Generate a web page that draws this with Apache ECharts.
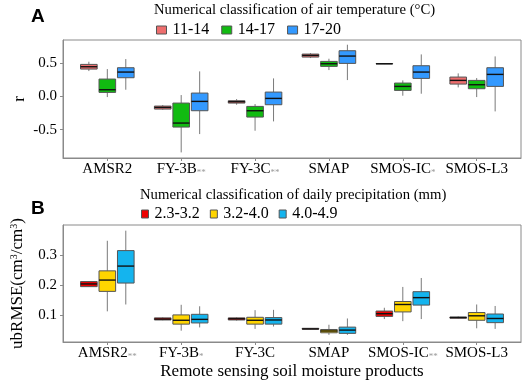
<!DOCTYPE html>
<html>
<head>
<meta charset="utf-8">
<script src="https://cdn.jsdelivr.net/npm/echarts@6/dist/echarts.min.js"></script>
<style>
  html, body { margin: 0; padding: 0; background: #fff; }
  #main { width: 526px; height: 388px; }
</style>
</head>
<body>
<div id="main"></div>
<script>
// products on the x axis (stars = significance marks)
var products = ['AMSR2', 'FY-3B', 'FY-3C', 'SMAP', 'SMOS-IC', 'SMOS-L3'];
var starsA = ['', '**', '**', '', '*', ''];
var starsB = ['**', '*', '', '', '**', ''];

// box stats: [min, q1, median, q3, max]
// panel A - correlation r by air temperature class
var tempClasses = ['11-14', '14-17', '17-20'];
var r_11_14 = [
  [0.38, 0.41, 0.445, 0.48, 0.52],
  [-0.20, -0.19, -0.165, -0.145, -0.13],
  [-0.125, -0.10, -0.08, -0.065, -0.04],
  [0.575, 0.59, 0.615, 0.635, 0.65],
  [0.485, 0.487, 0.49, 0.493, 0.495],
  [0.135, 0.185, 0.24, 0.29, 0.345]
];
var r_14_17 = [
  [-0.01, 0.06, 0.10, 0.26, 0.41],
  [-0.84, -0.46, -0.40, -0.10, 0.02],
  [-0.515, -0.31, -0.215, -0.15, -0.115],
  [0.395, 0.45, 0.49, 0.525, 0.565],
  [0.01, 0.09, 0.15, 0.20, 0.24],
  [-0.01, 0.115, 0.175, 0.24, 0.275]
];
var r_17_20 = [
  [0.10, 0.28, 0.365, 0.43, 0.56],
  [-0.565, -0.215, -0.075, 0.05, 0.375],
  [-0.375, -0.125, -0.03, 0.065, 0.27],
  [0.245, 0.495, 0.605, 0.685, 0.775],
  [0.04, 0.27, 0.365, 0.46, 0.63],
  [-0.225, 0.15, 0.33, 0.43, 0.60]
];

// panel B - ubRMSE by daily precipitation class
var precClasses = ['2.3-3.2', '3.2-4.0', '4.0-4.9'];
var u_23_32 = [
  [0.194, 0.195, 0.204, 0.212, 0.213],
  [0.082, 0.083, 0.086, 0.090, 0.092],
  [0.081, 0.083, 0.087, 0.090, 0.092],
  [0.051, 0.052, 0.053, 0.055, 0.056],
  [0.086, 0.095, 0.104, 0.113, 0.124],
  [0.088, 0.089, 0.091, 0.093, 0.095]
];
var u_32_40 = [
  [0.112, 0.179, 0.217, 0.248, 0.349],
  [0.047, 0.069, 0.082, 0.100, 0.134],
  [0.053, 0.069, 0.082, 0.092, 0.116],
  [0.033, 0.040, 0.046, 0.051, 0.067],
  [0.079, 0.110, 0.135, 0.145, 0.194],
  [0.055, 0.082, 0.097, 0.108, 0.135]
];
var u_40_49 = [
  [0.135, 0.207, 0.264, 0.316, 0.383],
  [0.058, 0.073, 0.085, 0.102, 0.129],
  [0.061, 0.069, 0.083, 0.091, 0.117],
  [0.033, 0.038, 0.049, 0.059, 0.088],
  [0.086, 0.133, 0.158, 0.178, 0.224],
  [0.053, 0.074, 0.088, 0.103, 0.130]
];

var yTicksA = [-0.5, 0, 0.5];
var yTicksB = [0.1, 0.2, 0.3];
var xTicks = [0, 1, 2, 3, 4, 5];

var colorsA = ['#EE6E6E', '#11BB11', '#3399FF'];
var colorsB = ['#EE0000', '#FFD500', '#14B4EE'];

var SERIF = 'Liberation Serif';
var BOX_W = 0.225;
var frame = '#8a8a8a';

function renderBox(offset, color) {
  return function (params, api) {
    var x = api.value(0) + offset;
    var pMin = api.coord([x, api.value(1)]);
    var pQ1 = api.coord([x, api.value(2)]);
    var pMed = api.coord([x, api.value(3)]);
    var pQ3 = api.coord([x, api.value(4)]);
    var pMax = api.coord([x, api.value(5)]);
    var hw = api.size([BOX_W, 0])[0] / 2;
    return {
      type: 'group',
      children: [
        { type: 'line', shape: { x1: pMin[0], y1: pMin[1], x2: pQ1[0], y2: pQ1[1] }, style: { stroke: '#7a7a7a', lineWidth: 1 } },
        { type: 'line', shape: { x1: pQ3[0], y1: pQ3[1], x2: pMax[0], y2: pMax[1] }, style: { stroke: '#7a7a7a', lineWidth: 1 } },
        { type: 'rect', shape: { x: pQ3[0] - hw, y: pQ3[1], width: hw * 2, height: pQ1[1] - pQ3[1] }, style: { fill: color, stroke: '#555', lineWidth: 1 } },
        { type: 'line', shape: { x1: pMed[0] - hw, y1: pMed[1], x2: pMed[0] + hw, y2: pMed[1] }, style: { stroke: '#111', lineWidth: 1.4 } }
      ]
    };
  };
}

function toData(stats) {
  return stats.map(function (s, i) { return [i].concat(s); });
}

function boxSeries(name, stats, idx, color, axisIdx) {
  return {
    name: name,
    type: 'custom',
    xAxisIndex: axisIdx,
    yAxisIndex: axisIdx,
    itemStyle: { color: color },
    encode: { x: 0, y: [1, 2, 3, 4, 5] },
    renderItem: renderBox((idx - 1) * 0.25, color),
    data: toData(stats)
  };
}

function xAxisFor(gridIdx, stars, withName) {
  return {
    type: 'value', gridIndex: gridIdx, min: -0.6, max: 5.6,
    splitLine: { show: false },
    axisLine: { show: true, onZero: false, lineStyle: { color: frame } },
    axisTick: { show: true, customValues: xTicks, length: 3, lineStyle: { color: frame } },
    axisLabel: {
      customValues: xTicks, margin: 4, color: '#000', fontFamily: SERIF, fontSize: 15,
      formatter: function (v) {
        var i = Math.round(v);
        return products[i] + (stars[i] ? '{s|' + stars[i] + '}' : '');
      },
      rich: { s: { fontSize: 9, color: '#999', fontFamily: SERIF, verticalAlign: 'bottom' } }
    },
    name: withName ? 'Remote sensing soil moisture products' : '',
    nameLocation: 'middle', nameGap: 21, nameMoveOverlap: false,
    nameTextStyle: { color: '#000', fontFamily: SERIF, fontSize: 17 }
  };
}

function yAxisFor(gridIdx, min, max, ticks, name, gap) {
  return {
    type: 'value', gridIndex: gridIdx, min: min, max: max,
    splitLine: { show: false },
    axisLine: { show: true, onZero: false, lineStyle: { color: frame } },
    axisTick: { show: true, customValues: ticks, length: 3, lineStyle: { color: frame } },
    axisLabel: {
      customValues: ticks, margin: 6, color: '#000', fontFamily: SERIF, fontSize: 15,
      formatter: function (v) { return v.toFixed(1); }
    },
    name: name, nameLocation: 'middle', nameGap: gap, nameRotate: 90, nameMoveOverlap: false,
    nameTextStyle: {
      color: '#000', fontFamily: SERIF, fontSize: 17,
      rich: { sup: { fontSize: 10, verticalAlign: 'top', fontFamily: SERIF, color: '#000' } }
    }
  };
}

var chart = echarts.init(document.getElementById('main'));
chart.setOption({
  animation: false,
  backgroundColor: '#fff',
  title: [
    { text: 'A', left: 31, top: 7, padding: 0, textStyle: { fontFamily: 'Liberation Sans', fontWeight: 'bold', fontSize: 19, color: '#000' } },
    { text: 'B', left: 31, top: 199, padding: 0, textStyle: { fontFamily: 'Liberation Sans', fontWeight: 'bold', fontSize: 19, color: '#000' } },
    { text: 'Numerical classification of air temperature (\u00B0C)', left: 154, top: 3, padding: 0, textStyle: { fontFamily: SERIF, fontWeight: 'normal', fontSize: 14.7, color: '#000' } },
    { text: 'Numerical classification of daily precipitation (mm)', left: 140, top: 188, padding: 0, textStyle: { fontFamily: SERIF, fontWeight: 'normal', fontSize: 14.7, color: '#000' } }
  ],
  legend: [
    {
      data: tempClasses, left: 156, top: 22, padding: 0, icon: 'rect', itemWidth: 10, itemHeight: 8, itemGap: 12,
      itemStyle: { borderColor: '#555', borderWidth: 1 },
      textStyle: { fontFamily: SERIF, fontSize: 16, color: '#000', padding: [0, 0, 0, 1] }
    },
    {
      data: precClasses, left: 141, top: 206, padding: 0, icon: 'rect', itemWidth: 7, itemHeight: 8, itemGap: 10,
      itemStyle: { borderColor: '#555', borderWidth: 1 },
      textStyle: { fontFamily: SERIF, fontSize: 16, color: '#000', padding: [0, 0, 0, 1] }
    }
  ],
  grid: [
    { left: 63, right: 5, top: 40, bottom: 230, show: true, borderColor: frame, borderWidth: 1, backgroundColor: '#fff' },
    { left: 63, right: 5, top: 225, bottom: 46, show: true, borderColor: frame, borderWidth: 1, backgroundColor: '#fff' }
  ],
  xAxis: [xAxisFor(0, starsA, false), xAxisFor(1, starsB, true)],
  yAxis: [
    yAxisFor(0, -0.924, 0.846, yTicksA, 'r', 35),
    yAxisFor(1, 0.009, 0.402, yTicksB, 'ubRMSE(cm{sup|3}/cm{sup|3})', 37)
  ],
  series: [
    boxSeries(tempClasses[0], r_11_14, 0, colorsA[0], 0),
    boxSeries(tempClasses[1], r_14_17, 1, colorsA[1], 0),
    boxSeries(tempClasses[2], r_17_20, 2, colorsA[2], 0),
    boxSeries(precClasses[0], u_23_32, 0, colorsB[0], 1),
    boxSeries(precClasses[1], u_32_40, 1, colorsB[1], 1),
    boxSeries(precClasses[2], u_40_49, 2, colorsB[2], 1)
  ]
});
</script>
</body>
</html>
